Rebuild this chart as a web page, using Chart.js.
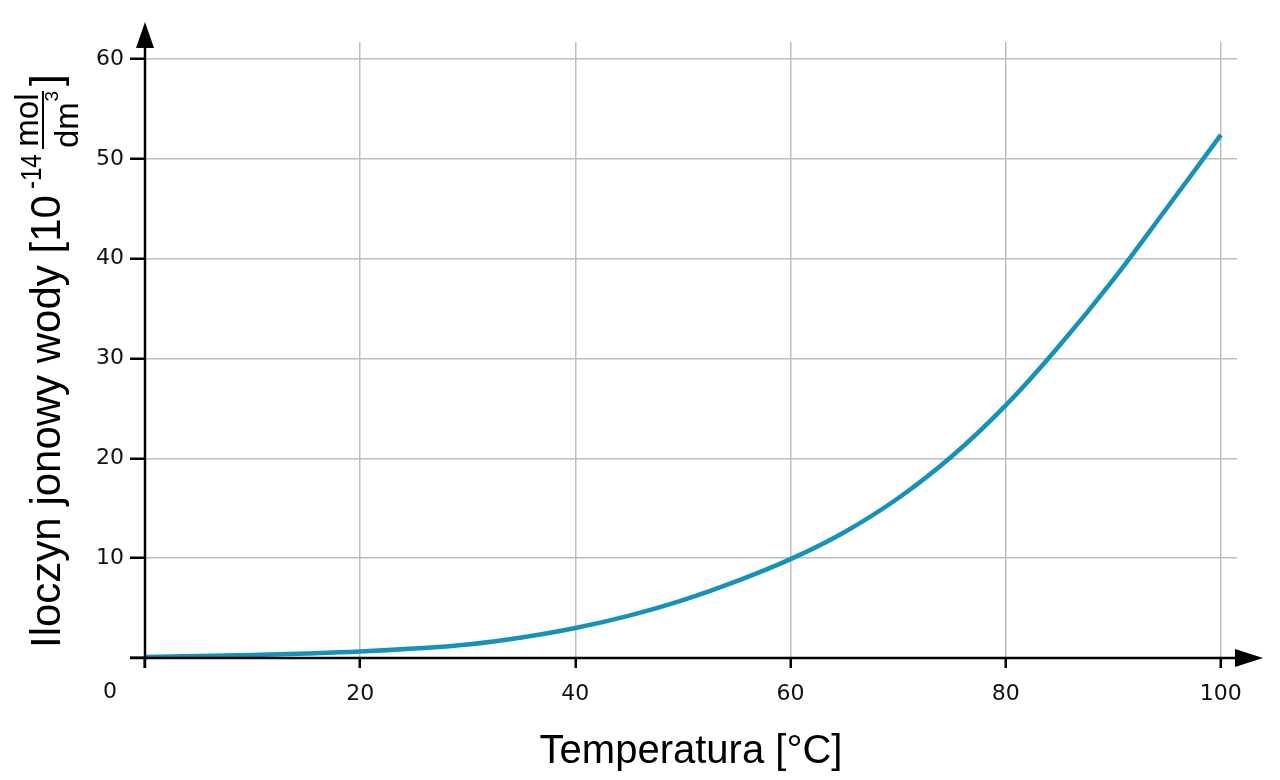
<!DOCTYPE html>
<html lang="pl">
<head>
    <meta charset="UTF-8">
    <title>Iloczyn jonowy wody</title>
    <script src="https://cdn.jsdelivr.net/npm/chart.js"></script>
    <style>
        html, body { margin: 0; padding: 0; background: #fff; }
        #wrap { width: 1280px; height: 780px; }
    </style>
</head>
<body>
    <div id="wrap"><canvas id="kwChart" width="1280" height="780"></canvas></div>

    <script>
        // data
        const temperatures = [0, 5, 10, 15, 20, 25, 30, 35, 40, 45, 50, 55, 60, 65, 70, 75, 80, 85, 90, 95, 100];
        const kwValues = [0.11, 0.19, 0.3, 0.45, 0.65, 0.95, 1.35, 2.05, 3.0, 4.25, 5.8, 7.7, 9.9, 12.6, 16.0, 20.2, 25.3, 31.3, 37.9, 45.1, 52.4];
        const xTicks = [0, 20, 40, 60, 80, 100];
        const yTicks = [0, 10, 20, 30, 40, 50, 60];

        const tickFont = { family: 'DejaVu Sans', size: 22 };
        const titleFont = 'Liberation Sans, Arial, sans-serif';

        // axis lines with arrows, origin label and y title
        const axesPlugin = {
            id: 'axes',
            afterDraw(chart) {
                const c = chart.ctx;
                const x0 = chart.scales.x.getPixelForValue(0);
                const y0 = chart.scales.y.getPixelForValue(0);
                c.save();
                c.strokeStyle = '#000';
                c.fillStyle = '#000';
                c.lineWidth = 2.5;
                c.beginPath();
                c.moveTo(x0, y0 + 10);
                c.lineTo(x0, 40);
                c.moveTo(x0 - 15, y0);
                c.lineTo(1240, y0);
                c.stroke();
                // arrow heads
                c.beginPath();
                c.moveTo(x0, 22);
                c.lineTo(x0 - 9, 48);
                c.lineTo(x0 + 9, 48);
                c.closePath();
                c.fill();
                c.beginPath();
                c.moveTo(1263, y0);
                c.lineTo(1235, y0 - 9);
                c.lineTo(1235, y0 + 9);
                c.closePath();
                c.fill();

                // origin label
                c.font = '22px DejaVu Sans';
                c.fillStyle = '#111';
                c.textAlign = 'center';
                c.textBaseline = 'middle';
                c.fillText('0', 110, 692);

                // rotated y axis title
                c.fillStyle = '#000';
                c.translate(60, 648);
                c.rotate(-Math.PI / 2);
                c.textAlign = 'left';
                c.textBaseline = 'alphabetic';
                c.font = '42px ' + titleFont;
                const main = 'Iloczyn jonowy wody [10';
                c.fillText(main, 0, 0);
                const w = c.measureText(main).width;
                c.save();
                c.translate(w + 6, -19);
                c.scale(0.8, 1);
                c.font = '30px ' + titleFont;
                c.fillText('-14', 0, 0);
                c.restore();
                // fraction mol / dm3
                const fx = w + 46;
                c.font = '33px ' + titleFont;
                c.textAlign = 'center';
                c.fillText('mol', fx + 29, -22);
                c.fillText('dm', fx + 24, 18);
                const dmw = c.measureText('dm').width;
                c.font = '19px ' + titleFont;
                c.fillText('3', fx + 24 + dmw / 2 + 6, -2);
                c.lineWidth = 2;
                c.beginPath();
                c.moveTo(fx, -17);
                c.lineTo(fx + 58, -17);
                c.stroke();
                c.font = '42px ' + titleFont;
                c.textAlign = 'left';
                c.fillText(']', fx + 63, 0);
                c.restore();
            }
        };

        const ctx = document.getElementById('kwChart').getContext('2d');
        const kwChart = new Chart(ctx, {
            type: 'line',
            data: {
                datasets: [{
                    label: 'Kw',
                    data: temperatures.map((t, i) => ({ x: t, y: kwValues[i] })),
                    borderColor: '#1692b9',
                    borderWidth: 4.5,
                    pointRadius: 0,
                    tension: 0.4,
                    fill: false
                }]
            },
            options: {
                responsive: false,
                animation: false,
                layout: { padding: { top: 42, right: 43, left: 0, bottom: 0 } },
                plugins: {
                    legend: { display: false },
                    tooltip: { enabled: false }
                },
                scales: {
                    x: {
                        type: 'linear',
                        min: 0,
                        max: 101.5,
                        afterBuildTicks: axis => { axis.ticks = xTicks.map(v => ({ value: v })); },
                        afterFit: axis => { axis.height = 122; },
                        border: { display: false },
                        grid: {
                            color: '#bdbdbd',
                            lineWidth: 1.5,
                            tickColor: '#000',
                            tickLength: 10,
                            tickWidth: 2.5
                        },
                        ticks: {
                            font: tickFont,
                            color: '#111',
                            padding: 13,
                            maxRotation: 0,
                            callback: v => (v === 0 ? '' : v)
                        },
                        title: {
                            display: true,
                            text: 'Temperatura [°C]',
                            font: { family: titleFont, size: 40 },
                            color: '#000',
                            padding: { top: 20 }
                        }
                    },
                    y: {
                        type: 'linear',
                        min: 0,
                        max: 61.7,
                        afterBuildTicks: axis => { axis.ticks = yTicks.map(v => ({ value: v })); },
                        afterFit: axis => { axis.width = 145; },
                        border: { display: false },
                        grid: {
                            color: '#bdbdbd',
                            lineWidth: 1.5,
                            tickColor: '#000',
                            tickLength: 15,
                            tickWidth: 2.5
                        },
                        ticks: {
                            font: tickFont,
                            color: '#111',
                            padding: 6,
                            callback: v => (v === 0 ? '' : v)
                        }
                    }
                }
            },
            plugins: [axesPlugin]
        });
    </script>
</body>
</html>
